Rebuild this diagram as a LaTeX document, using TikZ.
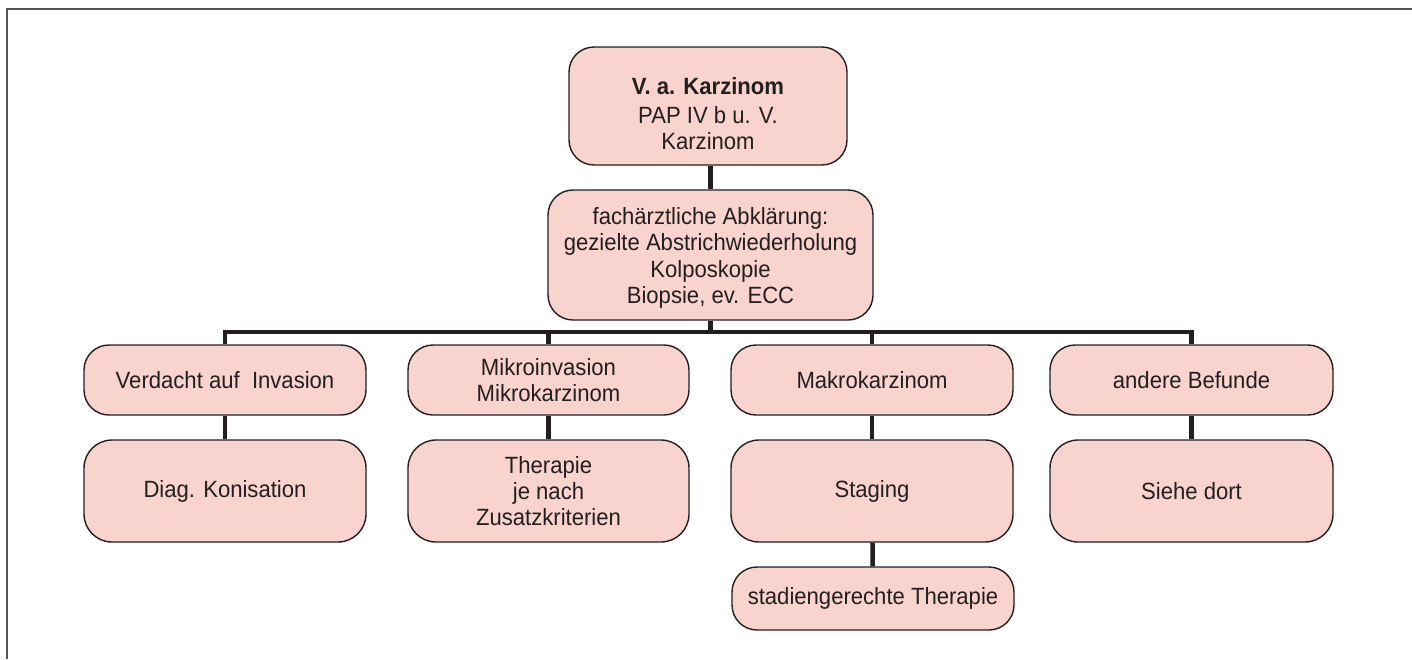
\documentclass[tikz,border=0pt]{standalone}
\usepackage{fontspec}
\setmainfont{Liberation Sans}[FakeStretch=0.94]
\definecolor{boxfill}{RGB}{249,211,206}
\definecolor{ink}{RGB}{35,31,32}
\definecolor{framec}{RGB}{85,85,85}
\begin{document}
\begin{tikzpicture}[x=1pt,y=-1pt,
  box/.style={draw=ink, line width=1.4pt, fill=boxfill, rounded corners=25pt,
    inner sep=0pt, align=center, text=ink, font=\fontsize{23.5}{26}\selectfont},
  conn/.style={draw=ink, line width=4.5pt},
  frameline/.style={draw=framec, line width=1.7pt}]
\useasboundingbox (0,0) rectangle (1412,659);
\draw[frameline] (7,659) -- (7,9) -- (1412,9);

\node[box, minimum width=278pt, minimum height=118pt] (top) at (708,106)
  {\rule{0pt}{33pt}{\bfseries V. a. Karzinom}\\[3pt]PAP IV b u. V.\\Karzinom};
\node[box, minimum width=325pt, minimum height=130pt] (fa) at (710.5,255)
  {\rule{0pt}{23pt}fachärztliche Abklärung:\\gezielte Abstrichwiederholung\\[1pt]Kolposkopie\\Biopsie, ev. ECC};

\node[box, minimum width=282pt, minimum height=70pt] (r1a) at (225,380) {Verdacht auf\ \ Invasion};
\node[box, minimum width=281pt, minimum height=70pt] (r1b) at (548.5,380) {Mikroinvasion\\Mikrokarzinom};
\node[box, minimum width=282pt, minimum height=70pt] (r1c) at (872,380) {Makrokarzinom};
\node[box, minimum width=283pt, minimum height=70pt] (r1d) at (1191.5,380) {andere Befunde};

\node[box, minimum width=282pt, minimum height=102pt, rounded corners=28pt] (r2a) at (225,491) {Diag. Konisation};
\node[box, minimum width=281pt, minimum height=102pt, rounded corners=28pt] (r2b) at (548.5,491) {Therapie\\je nach\\Zusatzkriterien};
\node[box, minimum width=282pt, minimum height=102pt, rounded corners=28pt] (r2c) at (872,491) {Staging};
\node[box, minimum width=283pt, minimum height=102pt, rounded corners=28pt] (r2d) at (1191.5,491) {Siehe dort};

\node[box, minimum width=282pt, minimum height=63pt] (r3c) at (873,598.5) {stadiengerechte Therapie};

\coordinate (bus) at (710,332);
\draw[conn] (fa.north) -- (fa.north |- top.south);
\draw[conn] (fa.south) -- (fa.south |- bus);
\draw[conn] (r1a.north) -- (r1a.north |- bus) -- (r1d.north |- bus) -- (r1d.north);
\draw[conn] (r1b.north) -- (r1b.north |- bus);
\draw[conn] (r1c.north) -- (r1c.north |- bus);
\draw[conn] (r1a) -- (r2a);
\draw[conn] (r1b) -- (r2b);
\draw[conn] (r1c) -- (r2c);
\draw[conn] (r1d) -- (r2d);
\draw[conn] (r2c) -- (r3c);
\end{tikzpicture}
\end{document}
